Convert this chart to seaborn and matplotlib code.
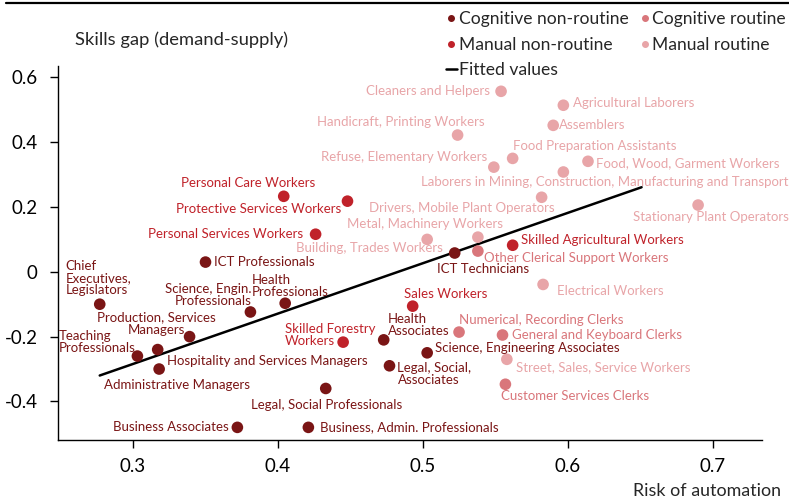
import pandas as pd
import matplotlib
matplotlib.use("Agg")
import matplotlib.pyplot as plt
from matplotlib.lines import Line2D
from matplotlib.ticker import FuncFormatter
import seaborn as sns

# ---- data ----
cnr_names = ["Chief\nExecutives,\nLegislators", "ICT Professionals", "Science, Engin.\nProfessionals",
             "Health\nProfessionals", "Production, Services\nManagers", "Teaching\nProfessionals",
             "Hospitality and Services Managers", "Administrative Managers", "Business Associates",
             "Business, Admin. Professionals", "Legal, Social Professionals", "Health\nAssociates",
             "Legal, Social,\nAssociates", "Science, Engineering Associates", "ICT Technicians"]
cnr_risk = [0.277, 0.350, 0.381, 0.405, 0.339, 0.303, 0.317, 0.318, 0.372, 0.421, 0.433, 0.473, 0.477, 0.503, 0.522]
cnr_gap = [-0.10, 0.030, -0.124, -0.097, -0.20, -0.26, -0.24, -0.30, -0.48, -0.48, -0.36, -0.21, -0.29, -0.25, 0.058]

mnr_names = ["Personal Care Workers", "Protective Services Workers", "Personal Services Workers",
             "Skilled Forestry\nWorkers", "Sales Workers", "Skilled Agricultural Workers"]
mnr_risk = [0.404, 0.448, 0.426, 0.445, 0.493, 0.562]
mnr_gap = [0.233, 0.218, 0.116, -0.217, -0.106, 0.082]

cr_names = ["Other Clerical Support Workers", "Numerical, Recording Clerks",
            "General and Keyboard Clerks", "Customer Services Clerks"]
cr_risk = [0.538, 0.525, 0.555, 0.557]
cr_gap = [0.064, -0.186, -0.195, -0.347]

mr_names = ["Cleaners and Helpers", "Agricultural Laborers", "Assemblers", "Handicraft, Printing Workers",
            "Food Preparation Assistants", "Refuse, Elementary Workers", "Food, Wood, Garment Workers",
            "Laborers in Mining, Construction, Manufacturing and Transport",
            "Drivers, Mobile Plant Operators", "Stationary Plant Operators", "Metal, Machinery Workers",
            "Building, Trades Workers", "Electrical Workers", "Street, Sales, Service Workers"]
mr_risk = [0.554, 0.597, 0.590, 0.524, 0.562, 0.549, 0.614, 0.597, 0.582, 0.690, 0.538, 0.503, 0.583, 0.558]
mr_gap = [0.557, 0.514, 0.452, 0.422, 0.350, 0.323, 0.341, 0.308, 0.230, 0.206, 0.107, 0.100, -0.039, -0.270]

fit_risk = [0.277, 0.651]
fit_gap = [-0.32, 0.261]

colors = {
    "Cognitive non-routine": "#7a1515",
    "Cognitive routine": "#d9767b",
    "Manual non-routine": "#c0222a",
    "Manual routine": "#e8a5a8",
}

frames = []
for g, n, x, y in [("Cognitive non-routine", cnr_names, cnr_risk, cnr_gap),
                   ("Manual non-routine", mnr_names, mnr_risk, mnr_gap),
                   ("Cognitive routine", cr_names, cr_risk, cr_gap),
                   ("Manual routine", mr_names, mr_risk, mr_gap)]:
    frames.append(pd.DataFrame({"Occupation": n, "Risk": x, "Gap": y, "Group": g}))
df = pd.concat(frames, ignore_index=True)
fit = pd.DataFrame({"Risk": fit_risk, "Gap": fit_gap})

# label placement: offset in pixels (right, down), ha, va
label_pos = {
    "Chief\nExecutives,\nLegislators": (-34, -8, "left", "bottom"),
    "ICT Professionals": (9, 0, "left", "center"),
    "Science, Engin.\nProfessionals": (1, -5, "right", "bottom"),
    "Health\nProfessionals": (-33, -5, "left", "bottom"),
    "Production, Services\nManagers": (-33, -13, "center", "center"),
    "Teaching\nProfessionals": (-79, -14, "left", "center"),
    "Hospitality and Services Managers": (9, 11, "left", "center"),
    "Administrative Managers": (18, 16, "center", "center"),
    "Business Associates": (-9, 0, "right", "center"),
    "Business, Admin. Professionals": (12, 0, "left", "center"),
    "Legal, Social Professionals": (1, 17, "center", "center"),
    "Health\nAssociates": (4, -15, "left", "center"),
    "Legal, Social,\nAssociates": (8, 8, "left", "center"),
    "Science, Engineering Associates": (8, -5, "left", "center"),
    "ICT Technicians": (28, 16, "center", "center"),
    "Personal Care Workers": (-36, -13, "center", "center"),
    "Protective Services Workers": (-6, 8, "right", "center"),
    "Personal Services Workers": (-12, 0, "right", "center"),
    "Skilled Forestry\nWorkers": (-58, -7, "left", "center"),
    "Sales Workers": (-9, -12, "left", "center"),
    "Skilled Agricultural Workers": (8, -5, "left", "center"),
    "Other Clerical Support Workers": (6, 7, "left", "center"),
    "Numerical, Recording Clerks": (0, -12, "left", "center"),
    "General and Keyboard Clerks": (9, 0, "left", "center"),
    "Customer Services Clerks": (-4, 12, "left", "center"),
    "Cleaners and Helpers": (-11, 0, "right", "center"),
    "Agricultural Laborers": (10, -2, "left", "center"),
    "Assemblers": (6, 0, "left", "center"),
    "Handicraft, Printing Workers": (27, -13, "right", "center"),
    "Food Preparation Assistants": (0, -12, "left", "center"),
    "Refuse, Elementary Workers": (-7, -10, "right", "center"),
    "Food, Wood, Garment Workers": (8, 2, "left", "center"),
    "Laborers in Mining, Construction, Manufacturing and Transport": (41, 10, "center", "center"),
    "Drivers, Mobile Plant Operators": (13, 11, "right", "center"),
    "Stationary Plant Operators": (13, 12, "center", "center"),
    "Metal, Machinery Workers": (25, -13, "right", "center"),
    "Building, Trades Workers": (16, 9, "right", "center"),
    "Electrical Workers": (14, 7, "left", "center"),
    "Street, Sales, Service Workers": (9, 8, "left", "center"),
}

sns.set_theme(style="ticks")
plt.rcParams["font.family"] = ["Lato", "DejaVu Sans"]

fig = plt.figure(figsize=(7.89, 5.04), dpi=100)
ax = fig.add_axes([58.3 / 789, 64 / 504, (761.7 - 58.3) / 789, (440 - 65.7) / 504])

sns.lineplot(data=fit, x="Risk", y="Gap", color="black", lw=1.8, ax=ax)
sns.scatterplot(data=df, x="Risk", y="Gap", hue="Group", palette=colors, s=70,
                edgecolor="none", legend=False, ax=ax, zorder=3)

for _, r in df.iterrows():
    dx, dy, ha, va = label_pos[r["Occupation"]]
    ax.annotate(r["Occupation"], (r["Risk"], r["Gap"]), xytext=(dx * 0.72, -dy * 0.72),
                textcoords="offset points", ha=ha, va=va, multialignment=ha,
                fontsize=9.5, color=colors[r["Group"]], linespacing=1.0)

ax.set_xlim(0.2484, 0.7339)
ax.set_ylim(-0.519, 0.636)
ax.set_xticks([0.3, 0.4, 0.5, 0.6, 0.7])
ax.set_yticks([-0.4, -0.2, 0, 0.2, 0.4, 0.6])
ax.yaxis.set_major_formatter(FuncFormatter(lambda v, p: "0" if abs(v) < 1e-9 else f"{v:.1f}"))
ax.tick_params(labelsize=13.5, length=6, width=1, color="black", labelcolor="black")
ax.tick_params(axis="y", pad=9)
ax.tick_params(axis="x", pad=7)
ax.set_xlabel("")
ax.set_ylabel("")
for s in ["top", "right"]:
    ax.spines[s].set_visible(False)
for s in ["left", "bottom"]:
    ax.spines[s].set_color("black")
    ax.spines[s].set_linewidth(1)

fig.text(75 / 789, 1 - 40 / 504, "Skills gap (demand-supply)", fontsize=13.2, ha="left", va="center")
fig.text(781 / 789, 1 - 491 / 504, "Risk of automation", fontsize=12.9, ha="right", va="center")

# top border line
fig.add_artist(Line2D([6 / 789, 1], [1 - 3 / 504, 1 - 3 / 504], color="black", lw=1.6))

handles = [
    Line2D([], [], marker="o", ls="none", color=colors["Cognitive non-routine"], markersize=4),
    Line2D([], [], marker="o", ls="none", color=colors["Manual non-routine"], markersize=4),
    Line2D([], [], color="black", lw=1.8),
    Line2D([], [], marker="o", ls="none", color=colors["Cognitive routine"], markersize=4),
    Line2D([], [], marker="o", ls="none", color=colors["Manual routine"], markersize=4),
]
labels = ["Cognitive non-routine", "Manual non-routine", "Fitted values",
          "Cognitive routine", "Manual routine"]
fig.legend(handles, labels, ncol=2, loc="upper left", bbox_to_anchor=(446 / 789, 1 - 11 / 504),
           frameon=False, fontsize=12.6, handlelength=0.6, handletextpad=0.15,
           columnspacing=0.6, labelspacing=0.55, borderpad=0, borderaxespad=0)

fig.savefig("out.png", dpi=100)
